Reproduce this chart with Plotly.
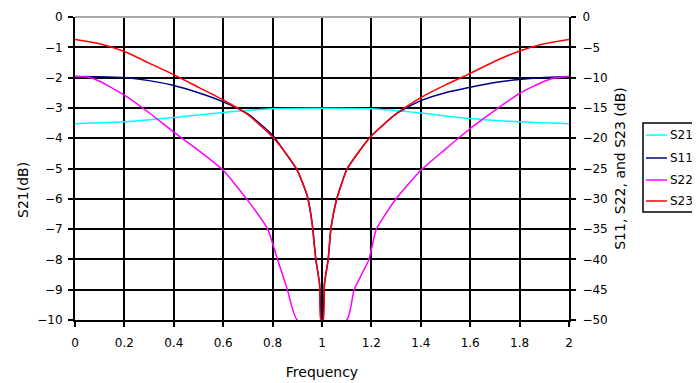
import plotly.graph_objects as go

# S21 (left axis)
f_s21 = [0, 0.2, 0.4, 0.6, 0.8, 1.0, 1.2, 1.4, 1.6, 1.8, 2.0]
s21 = [-3.52, -3.46, -3.32, -3.15, -3.03, -3.01, -3.03, -3.17, -3.35, -3.46, -3.52]

# S11 (right axis)
f_s11 = [0, 0.1, 0.2, 0.3, 0.4, 0.5, 0.6, 0.7, 0.8, 0.85, 0.9, 0.94, 0.96, 0.975, 0.99, 0.998,
         1.002, 1.01, 1.025, 1.036, 1.06, 1.1, 1.15, 1.2, 1.3, 1.4, 1.5, 1.6, 1.7, 1.8, 1.9, 2.0]
s11 = [-9.8, -9.85, -10.0, -10.5, -11.3, -12.5, -14.0, -16.0, -19.5, -22.3, -25.3, -29.5, -34, -40, -44, -50,
       -50, -44, -40, -35, -30, -25.2, -22.2, -19.6, -16.0, -13.8, -12.5, -11.6, -10.8, -10.3, -10.0, -9.8]

# S22 (right axis)
f_s22 = [0, 0.05, 0.1, 0.2, 0.3, 0.4, 0.5, 0.6, 0.7, 0.78, 0.82, 0.86, 0.9,
         1.1, 1.13, 1.19, 1.22, 1.3, 1.4, 1.5, 1.6, 1.7, 1.8, 1.9, 1.95, 2.0]
s22 = [-9.8, -9.9, -10.6, -12.9, -15.8, -19.0, -22.0, -25.3, -30.3, -35, -40, -45, -50,
       -50, -45, -40, -35, -30, -25.3, -21.8, -18.4, -15.4, -12.6, -10.6, -10.0, -9.8]

# S23 (right axis)
f_s23 = [0, 0.1, 0.2, 0.3, 0.4, 0.5, 0.6, 0.7, 0.8, 0.85, 0.9, 0.94, 0.96, 0.975, 0.99, 0.995,
         1.005, 1.01, 1.025, 1.036, 1.06, 1.1, 1.15, 1.2, 1.3, 1.4, 1.5, 1.6, 1.7, 1.8, 1.9, 2.0]
s23 = [-3.7, -4.4, -5.7, -7.6, -9.5, -11.6, -13.7, -16.1, -19.8, -22.3, -25.3, -29.5, -34, -40, -44, -50,
       -50, -44, -40, -35, -30, -25.2, -22.2, -19.6, -16.0, -13.3, -11.2, -9.3, -7.3, -5.6, -4.4, -3.7]

series_names = ["S21", "S11", "S22", "S23"]
series_colors = ["#00FFFF", "#000080", "#FF00FF", "#FF0000"]

x_ticks = [0, 0.2, 0.4, 0.6, 0.8, 1, 1.2, 1.4, 1.6, 1.8, 2]
x_labels = ["0", "0.2", "0.4", "0.6", "0.8", "1", "1.2", "1.4", "1.6", "1.8", "2"]
y1_ticks = list(range(-10, 1))
y2_ticks = list(range(-50, 1, 5))

FONT = "DejaVu Sans, Arial, sans-serif"
TICKFONT = dict(family=FONT, size=12, color="black")
TITLEFONT = dict(family=FONT, size=14, color="black")

fig = go.Figure()
data = [(f_s21, s21, "y"), (f_s11, s11, "y2"), (f_s22, s22, "y2"), (f_s23, s23, "y2")]
for (fx, vy, ax), nm, col in zip(data, series_names, series_colors):
    fig.add_trace(go.Scatter(x=fx, y=vy, name=nm, mode="lines", yaxis=ax, showlegend=False,
                             line=dict(color=col, width=1.5, shape="spline", smoothing=0.5)))

# plot area in figure px: x 67..561, y 9..312 (page is offset by 8px body margin)
PL, PR, PT, PB = 67, 561, 9, 312
def px(xp):
    return (xp - PL) / (PR - PL)
def py(yp):
    return (PB - yp) / (PB - PT)

shapes = [
    dict(type="line", xref="paper", yref="paper", x0=0, x1=1, y0=1, y1=1,
         line=dict(color="#a8a8a8", width=2), layer="above"),
    dict(type="rect", xref="paper", yref="paper", x0=px(635), x1=px(730), y0=py(115), y1=py(204),
         line=dict(color="black", width=1.5), fillcolor="white", layer="above"),
]
annotations = [
    dict(xref="paper", yref="paper", x=px(15), y=py(182), text="S21(dB)", textangle=-90,
         showarrow=False, xanchor="center", yanchor="middle", font=TITLEFONT),
]
entry_y = [127, 150, 172, 193]
for nm, col, ey in zip(series_names, series_colors, entry_y):
    shapes.append(dict(type="line", xref="paper", yref="paper", x0=px(638), x1=px(659),
                       y0=py(ey), y1=py(ey), line=dict(color=col, width=1.5), layer="above"))
    annotations.append(dict(xref="paper", yref="paper", x=px(660), y=py(ey), text=nm,
                            showarrow=False, xanchor="left", yanchor="middle",
                            font=dict(family=FONT, size=12, color="black")))

fig.update_layout(
    width=700, height=383,
    margin=dict(l=PL, r=700 - PR, t=PT, b=383 - PB, autoexpand=False),
    paper_bgcolor="white", plot_bgcolor="white",
    font=dict(family=FONT, size=12, color="black"),
    showlegend=False,
    xaxis=dict(range=[0, 2], tickvals=x_ticks, ticktext=x_labels,
               showgrid=True, gridcolor="black", gridwidth=2,
               showline=True, linecolor="black", linewidth=2,
               ticks="outside", ticklen=5, tickcolor="black", tickwidth=1.5,
               ticklabelstandoff=6,
               zeroline=False, title=dict(text="Frequency", standoff=18, font=TITLEFONT),
               tickfont=TICKFONT, automargin=False),
    yaxis=dict(range=[-10, 0], tickvals=y1_ticks,
               showgrid=True, gridcolor="black", gridwidth=2,
               showline=True, linecolor="black", linewidth=2,
               ticks="outside", ticklen=5, tickcolor="black", tickwidth=1.5,
               ticklabelstandoff=3,
               zeroline=False, tickfont=TICKFONT, automargin=False),
    yaxis2=dict(range=[-50, 0], tickvals=y2_ticks, overlaying="y", side="right",
                showgrid=False, showline=True, linecolor="black", linewidth=2,
                ticks="outside", ticklen=5, tickcolor="black", tickwidth=1.5,
                ticklabelstandoff=4,
                zeroline=False, title=dict(text="S11, S22, and S23 (dB)", standoff=8, font=TITLEFONT),
                tickfont=TICKFONT, automargin=False),
    shapes=shapes,
    annotations=annotations,
)

fig.write_html("out.html")
